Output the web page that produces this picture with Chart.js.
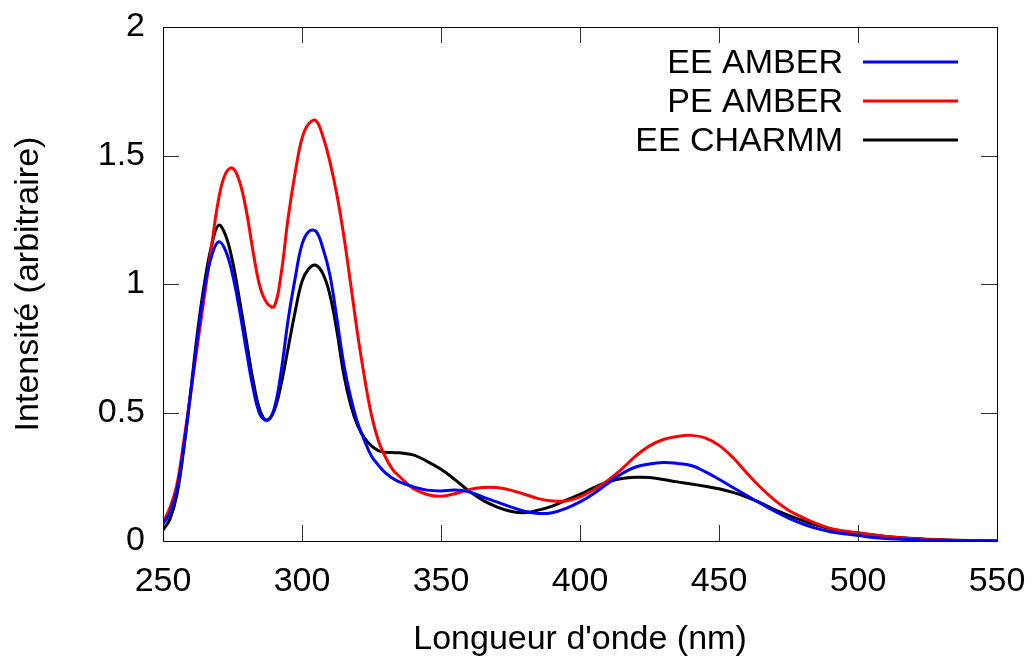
<!DOCTYPE html>
<html>
<head>
<meta charset="utf-8">
<script src="https://cdn.jsdelivr.net/npm/chart.js@4.4.1/dist/chart.umd.min.js"></script>
<style>
  html, body { margin: 0; padding: 0; background: #fff; }
</style>
</head>
<body>
<canvas id="spectre" width="1033" height="660"></canvas>
<script>
// Longueurs d'onde (nm) : pas de 2.5 dans la zone des pics, puis 5, puis 10
const wavelengths = [250,252.5,255,257.5,260,262.5,265,267.5,270,272.5,275,277.5,280,282.5,285,287.5,290,292.5,295,297.5,300,302.5,305,307.5,310,312.5,315,317.5,320,322.5,325,327.5,330,332.5,335,
    340,345,350,355,360,365,370,375,380,385,390,395,400,405,410,415,420,425,430,435,440,445,450,455,460,465,470,475,480,485,490,495,500,510,520,530,540,550];

// Intensités (arbitraires)
const eeAmber = [0.066,0.11,0.2,0.37,0.58,0.80,0.99,1.11,1.164,1.13,1.037,0.90,0.74,0.59,0.49,0.47,0.515,0.66,0.86,1.02,1.154,1.205,1.205,1.14,1.037,0.87,0.69,0.56,0.46,0.39,0.33,0.295,0.265,0.245,0.23,
    0.211,0.198,0.195,0.198,0.191,0.172,0.152,0.133,0.116,0.107,0.11,0.127,0.152,0.185,0.224,0.262,0.288,0.3,0.305,0.302,0.294,0.27,0.24,0.208,0.177,0.146,0.116,0.089,0.067,0.049,0.036,0.028,0.021,0.01,0.005,0.002,0.001,0.0];

const peAmber = [0.07,0.13,0.22,0.39,0.58,0.77,0.96,1.15,1.33,1.43,1.451,1.40,1.283,1.12,0.985,0.925,0.912,1.04,1.257,1.43,1.567,1.625,1.636,1.575,1.477,1.35,1.19,1.0,0.805,0.635,0.49,0.39,0.327,0.28,0.252,
    0.204,0.181,0.174,0.184,0.2,0.208,0.208,0.198,0.182,0.165,0.156,0.156,0.172,0.2,0.236,0.28,0.33,0.37,0.395,0.407,0.411,0.401,0.372,0.325,0.265,0.208,0.159,0.12,0.092,0.068,0.049,0.039,0.032,0.018,0.009,0.004,0.002,0.001];

const eeCharmm = [0.043,0.085,0.18,0.36,0.585,0.82,1.01,1.15,1.229,1.19,1.089,0.94,0.779,0.62,0.505,0.47,0.508,0.61,0.75,0.89,1.01,1.06,1.073,1.04,0.96,0.82,0.65,0.53,0.45,0.40,0.37,0.352,0.345,0.344,0.343,
    0.335,0.31,0.279,0.239,0.195,0.159,0.133,0.116,0.11,0.12,0.136,0.159,0.181,0.208,0.23,0.243,0.248,0.247,0.239,0.23,0.222,0.213,0.203,0.189,0.171,0.148,0.122,0.1,0.08,0.062,0.047,0.037,0.03,0.018,0.01,0.005,0.002,0.001];

const seriesLabels = ['EE AMBER', 'PE AMBER', 'EE CHARMM'];
const seriesColors = ['#0000ff', '#ff0000', '#000000'];
const xTitle = "Longueur d'onde (nm)";
const yTitle = 'Intensité (arbitraire)';

const police = { family: "'Liberation Sans', Arial, sans-serif", size: 34 };

function toPoints(xs, ys) {
    return xs.map((x, i) => ({ x: x, y: ys[i] }));
}

// ticks vers l'intérieur sur les 4 côtés + cadre (style gnuplot)
const cadrePlugin = {
    id: 'cadre',
    afterDatasetsDraw(chart) {
        const ctx = chart.ctx;
        const a = chart.chartArea;
        const xs = chart.scales.x;
        const ys = chart.scales.y;
        const len = 16;
        ctx.save();
        ctx.strokeStyle = '#333';
        ctx.lineWidth = 1;
        ctx.beginPath();
        xs.ticks.forEach(t => {
            if (t.value <= xs.min || t.value >= xs.max) return;
            const px = Math.round(xs.getPixelForValue(t.value)) + 0.5;
            ctx.moveTo(px, a.bottom); ctx.lineTo(px, a.bottom - len);
            ctx.moveTo(px, a.top); ctx.lineTo(px, a.top + len);
        });
        ys.ticks.forEach(t => {
            if (t.value <= ys.min || t.value >= ys.max) return;
            const py = Math.round(ys.getPixelForValue(t.value)) + 0.5;
            ctx.moveTo(a.left, py); ctx.lineTo(a.left + len, py);
            ctx.moveTo(a.right, py); ctx.lineTo(a.right - len, py);
        });
        ctx.stroke();
        ctx.strokeStyle = '#000';
        ctx.strokeRect(Math.round(a.left) + 0.5, Math.round(a.top) + 0.5,
            Math.round(a.right - a.left), Math.round(a.bottom - a.top));
        ctx.restore();
    },
    afterDraw(chart) {
        // légende : texte aligné à droite puis segment de ligne
        const ctx = chart.ctx;
        const a = chart.chartArea;
        const lineEnd = a.right - 39;
        const lineStart = lineEnd - 95;
        const textRight = lineStart - 20;
        ctx.save();
        ctx.font = police.size + 'px ' + police.family;
        ctx.textAlign = 'right';
        ctx.textBaseline = 'middle';
        chart.data.datasets.forEach((ds, i) => {
            const y = a.top + 35 + i * 39;
            ctx.fillStyle = '#000';
            ctx.fillText(ds.label, textRight, y + 2);
            ctx.strokeStyle = ds.borderColor;
            ctx.lineWidth = 3;
            ctx.beginPath();
            ctx.moveTo(lineStart, y);
            ctx.lineTo(lineEnd, y);
            ctx.stroke();
        });
        ctx.restore();
    }
};

const ctx = document.getElementById('spectre').getContext('2d');
const spectreChart = new Chart(ctx, {
    type: 'line',
    data: {
        datasets: [
            { label: seriesLabels[0], data: toPoints(wavelengths, eeAmber), borderColor: seriesColors[0] },
            { label: seriesLabels[1], data: toPoints(wavelengths, peAmber), borderColor: seriesColors[1] },
            { label: seriesLabels[2], data: toPoints(wavelengths, eeCharmm), borderColor: seriesColors[2] }
        ]
    },
    options: {
        responsive: false,
        animation: false,
        layout: { padding: { top: 27, right: 36, left: 0, bottom: 0 } },
        elements: {
            point: { radius: 0 },
            line: { borderWidth: 3, tension: 0.4, fill: false }
        },
        plugins: {
            legend: { display: false },
            tooltip: { enabled: false }
        },
        scales: {
            x: {
                type: 'linear',
                min: 250,
                max: 550,
                ticks: { stepSize: 50, padding: 20, color: '#000', font: police, maxRotation: 0 },
                grid: { display: false, drawTicks: false },
                border: { display: false },
                title: { display: true, text: xTitle, color: '#000', font: police, padding: { top: 0, bottom: 0 } },
                afterFit: s => { s.height = 119; s.paddingLeft = 0; s.paddingRight = 0; }
            },
            y: {
                min: 0,
                max: 2,
                ticks: { stepSize: 0.5, padding: 18, color: '#000', font: police, callback: v => String(v) },
                grid: { display: false, drawTicks: false },
                border: { display: false },
                title: { display: true, text: yTitle, color: '#000', font: police, padding: { top: 8, bottom: 0 } },
                afterFit: s => { s.width = 163; s.paddingTop = 0; s.paddingBottom = 0; }
            }
        }
    },
    plugins: [cadrePlugin]
});
</script>
</body>
</html>
